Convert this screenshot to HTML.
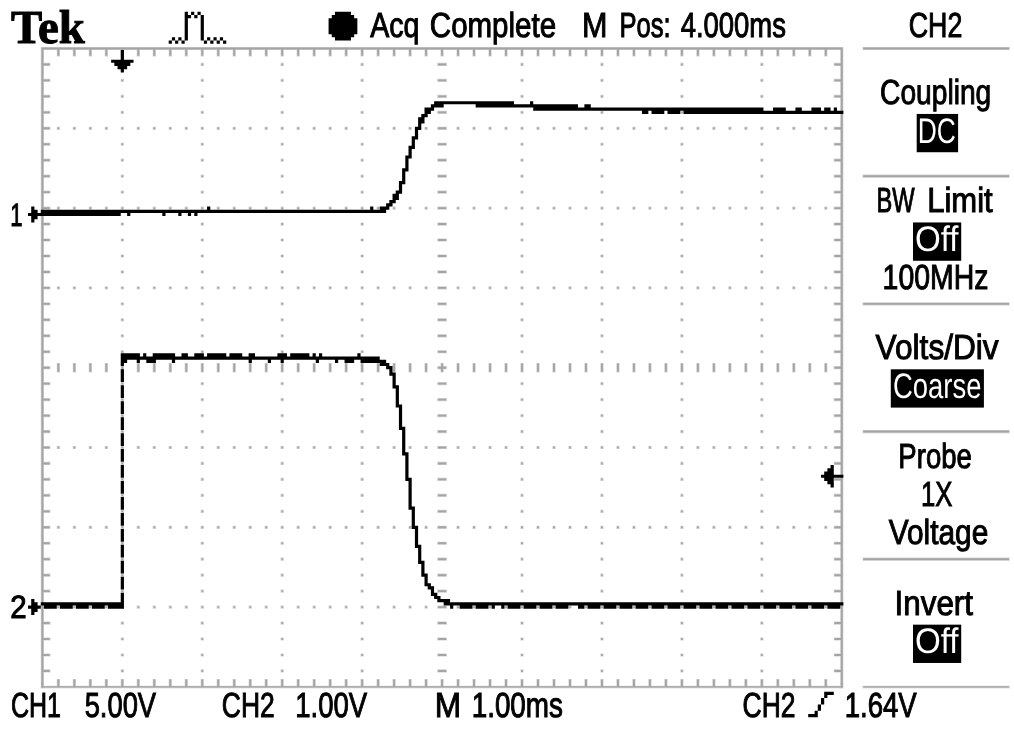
<!DOCTYPE html>
<html lang="en"><head><meta charset="utf-8"><title>Tek CH2</title>
<style>
html,body{margin:0;padding:0;background:#fff;}
body{width:1014px;height:730px;overflow:hidden;}
svg{display:block;}
.t text{fill:#000;stroke:#000;stroke-width:1px;vector-effect:non-scaling-stroke;}
.t text.w{fill:#fff;stroke:none;}
.g path{stroke:#fff;stroke-opacity:0.5;stroke-width:1.3px;}
.k text{fill:#000;stroke:#000;stroke-width:1px;}
</style></head><body>
<svg width="1014" height="730" viewBox="0 0 1014 730" text-rendering="geometricPrecision">
<rect width="1014" height="730" fill="#fff"/>
<g class="g"><path fill="#a8a8a8" d="M600.36 78.82H603.56V82.02H600.36ZM520.43 286.3H523.62V289.5H520.43ZM472.46 605.5H475.66V608.7H472.46ZM280.61 589.54H283.81V592.74H280.61ZM216.66 286.3H219.86V289.5H216.66ZM120.74 557.62H123.94V560.82H120.74ZM760.24 382.06H763.44V385.26H760.24ZM680.3 589.54H683.5V592.74H680.3ZM248.64 445.9H251.84V449.1H248.64ZM168.7 206.5H171.9V209.7H168.7ZM632.34 206.5H635.54V209.7H632.34ZM360.55 398.02H363.75V401.22H360.55ZM280.61 158.62H283.81V161.82H280.61ZM120.74 126.7H123.94V129.9H120.74ZM584.38 126.7H587.57V129.9H584.38ZM600.36 493.78H603.56V496.98H600.36ZM680.3 158.62H683.5V161.82H680.3ZM616.35 286.3H619.55V289.5H616.35ZM568.39 605.5H571.59V608.7H568.39ZM392.53 525.7H395.72V528.9H392.53ZM312.59 286.3H315.79V289.5H312.59ZM344.56 445.9H347.76V449.1H344.56ZM600.36 62.86H603.56V66.06H600.36ZM808.2 445.9H811.4V449.1H808.2ZM520.43 270.34H523.62V273.54H520.43ZM264.63 206.5H267.82V209.7H264.63ZM88.76 126.7H91.96V129.9H88.76ZM280.61 573.58H283.81V576.78H280.61ZM728.26 206.5H731.46V209.7H728.26ZM120.74 541.66H123.94V544.86H120.74ZM376.54 605.5H379.74V608.7H376.54ZM72.78 605.5H75.97V608.7H72.78ZM680.3 573.58H683.5V576.78H680.3ZM600.36 334.18H603.56V337.38H600.36ZM360.55 382.06H363.75V385.26H360.55ZM280.61 142.66H283.81V145.86H280.61ZM536.41 206.5H539.61V209.7H536.41ZM200.68 350.14H203.87V353.34H200.68ZM488.45 525.7H491.65V528.9H488.45ZM408.51 286.3H411.71V289.5H408.51ZM120.74 110.74H123.94V113.94H120.74ZM680.3 142.66H683.5V145.86H680.3ZM360.55 653.38H363.75V656.58H360.55ZM184.69 126.7H187.89V129.9H184.69ZM136.73 445.9H139.92V449.1H136.73ZM168.7 605.5H171.9V608.7H168.7ZM632.34 605.5H635.54V608.7H632.34ZM520.43 254.38H523.62V257.58H520.43ZM280.61 557.62H283.81V560.82H280.61ZM360.55 222.46H363.75V225.66H360.55ZM120.74 525.7H123.94V528.9H120.74ZM584.38 525.7H587.57V528.9H584.38ZM760.24 350.14H763.44V353.34H760.24ZM680.3 557.62H683.5V560.82H680.3ZM600.36 318.22H603.56V321.42H600.36ZM280.61 126.7H283.81V129.9H280.61ZM200.68 334.18H203.87V337.38H200.68ZM120.74 94.78H123.94V97.98H120.74ZM520.43 669.34H523.62V672.54H520.43ZM680.3 126.7H683.5V129.9H680.3ZM632.34 445.9H635.54V449.1H632.34ZM264.63 605.5H267.82V608.7H264.63ZM728.26 605.5H731.46V608.7H728.26ZM360.55 637.42H363.75V640.62H360.55ZM280.61 398.02H283.81V401.22H280.61ZM520.43 238.42H523.62V241.62H520.43ZM360.55 206.5H363.75V209.7H360.55ZM120.74 509.74H123.94V512.94H120.74ZM824.19 206.5H827.39V209.7H824.19ZM56.79 206.5H59.99V209.7H56.79ZM760.24 334.18H763.44V337.38H760.24ZM680.3 541.66H683.5V544.86H680.3ZM600.36 302.26H603.56V305.46H600.36ZM776.23 126.7H779.42V129.9H776.23ZM728.26 445.9H731.46V449.1H728.26ZM472.46 126.7H475.66V129.9H472.46ZM200.68 318.22H203.87V321.42H200.68ZM120.74 78.82H123.94V82.02H120.74ZM504.44 286.3H507.64V289.5H504.44ZM520.43 653.38H523.62V656.58H520.43ZM680.3 110.74H683.5V113.94H680.3ZM360.55 621.46H363.75V624.66H360.55ZM280.61 382.06H283.81V385.26H280.61ZM536.41 445.9H539.61V449.1H536.41ZM456.48 206.5H459.67V209.7H456.48ZM232.65 445.9H235.85V449.1H232.65ZM152.71 206.5H155.91V209.7H152.71ZM520.43 222.46H523.62V225.66H520.43ZM360.55 190.54H363.75V193.74H360.55ZM120.74 493.78H123.94V496.98H120.74ZM568.39 126.7H571.59V129.9H568.39ZM760.24 318.22H763.44V321.42H760.24ZM680.3 525.7H683.5V528.9H680.3ZM600.36 286.3H603.56V289.5H600.36ZM552.4 605.5H555.6V608.7H552.4ZM296.6 286.3H299.8V289.5H296.6ZM200.68 302.26H203.87V305.46H200.68ZM760.24 589.54H763.44V592.74H760.24ZM120.74 62.86H123.94V66.06H120.74ZM376.54 126.7H379.74V129.9H376.54ZM328.58 445.9H331.77V449.1H328.58ZM792.21 445.9H795.41V449.1H792.21ZM72.78 126.7H75.97V129.9H72.78ZM520.43 637.42H523.62V640.62H520.43ZM680.3 94.78H683.5V97.98H680.3ZM712.28 206.5H715.47V209.7H712.28ZM360.55 605.5H363.75V608.7H360.55ZM824.19 605.5H827.39V608.7H824.19ZM104.75 286.3H107.95V289.5H104.75ZM56.79 605.5H59.99V608.7H56.79ZM760.24 158.62H763.44V161.82H760.24ZM776.23 525.7H779.42V528.9H776.23ZM696.29 286.3H699.49V289.5H696.29ZM520.43 206.5H523.62V209.7H520.43ZM472.46 525.7H475.66V528.9H472.46ZM360.55 174.58H363.75V177.78H360.55ZM120.74 477.82H123.94V481.02H120.74ZM680.3 509.74H683.5V512.94H680.3ZM424.5 445.9H427.7V449.1H424.5ZM600.36 270.34H603.56V273.54H600.36ZM520.43 477.82H523.62V481.02H520.43ZM168.7 126.7H171.9V129.9H168.7ZM456.48 605.5H459.67V608.7H456.48ZM200.68 286.3H203.87V289.5H200.68ZM152.71 605.5H155.91V608.7H152.71ZM760.24 573.58H763.44V576.78H760.24ZM680.3 78.82H683.5V82.02H680.3ZM360.55 589.54H363.75V592.74H360.55ZM616.35 206.5H619.55V209.7H616.35ZM568.39 525.7H571.59V528.9H568.39ZM280.61 350.14H283.81V353.34H280.61ZM760.24 142.66H763.44V145.86H760.24ZM248.64 206.5H251.84V209.7H248.64ZM264.63 126.7H267.82V129.9H264.63ZM360.55 158.62H363.75V161.82H360.55ZM120.74 461.86H123.94V465.06H120.74ZM376.54 525.7H379.74V528.9H376.54ZM664.31 126.7H667.51V129.9H664.31ZM712.28 605.5H715.47V608.7H712.28ZM680.3 493.78H683.5V496.98H680.3ZM600.36 254.38H603.56V257.58H600.36ZM520.43 461.86H523.62V465.06H520.43ZM392.53 286.3H395.72V289.5H392.53ZM200.68 270.34H203.87V273.54H200.68ZM760.24 557.62H763.44V560.82H760.24ZM680.3 62.86H683.5V66.06H680.3ZM344.56 206.5H347.76V209.7H344.56ZM360.55 573.58H363.75V576.78H360.55ZM808.2 206.5H811.4V209.7H808.2ZM280.61 334.18H283.81V337.38H280.61ZM200.68 541.66H203.87V544.86H200.68ZM600.36 669.34H603.56V672.54H600.36ZM760.24 126.7H763.44V129.9H760.24ZM712.28 445.9H715.47V449.1H712.28ZM104.75 525.7H107.95V528.9H104.75ZM360.55 142.66H363.75V145.86H360.55ZM120.74 445.9H123.94V449.1H120.74ZM488.45 286.3H491.65V289.5H488.45ZM200.68 110.74H203.87V113.94H200.68ZM680.3 477.82H683.5V481.02H680.3ZM600.36 238.42H603.56V241.62H600.36ZM520.43 445.9H523.62V449.1H520.43ZM216.66 445.9H219.86V449.1H216.66ZM136.73 206.5H139.92V209.7H136.73ZM760.24 541.66H763.44V544.86H760.24ZM248.64 605.5H251.84V608.7H248.64ZM360.55 557.62H363.75V560.82H360.55ZM552.4 126.7H555.6V129.9H552.4ZM280.61 318.22H283.81V321.42H280.61ZM200.68 525.7H203.87V528.9H200.68ZM664.31 525.7H667.51V528.9H664.31ZM120.74 286.3H123.94V289.5H120.74ZM584.38 286.3H587.57V289.5H584.38ZM600.36 653.38H603.56V656.58H600.36ZM760.24 110.74H763.44V113.94H760.24ZM616.35 445.9H619.55V449.1H616.35ZM360.55 126.7H363.75V129.9H360.55ZM312.59 445.9H315.79V449.1H312.59ZM200.68 94.78H203.87V97.98H200.68ZM56.79 126.7H59.99V129.9H56.79ZM680.3 461.86H683.5V465.06H680.3ZM344.56 605.5H347.76V608.7H344.56ZM600.36 222.46H603.56V225.66H600.36ZM808.2 605.5H811.4V608.7H808.2ZM520.43 429.94H523.62V433.14H520.43ZM88.76 286.3H91.96V289.5H88.76ZM776.23 605.5H779.42V608.7H776.23ZM760.24 525.7H763.44V528.9H760.24ZM504.44 206.5H507.64V209.7H504.44ZM360.55 541.66H363.75V544.86H360.55ZM280.61 302.26H283.81V305.46H280.61ZM200.68 509.74H203.87V512.94H200.68ZM456.48 126.7H459.67V129.9H456.48ZM408.51 445.9H411.71V449.1H408.51ZM120.74 270.34H123.94V273.54H120.74ZM152.71 126.7H155.91V129.9H152.71ZM600.36 637.42H603.56V640.62H600.36ZM760.24 94.78H763.44V97.98H760.24ZM680.3 302.26H683.5V305.46H680.3ZM184.69 286.3H187.89V289.5H184.69ZM136.73 605.5H139.92V608.7H136.73ZM360.55 110.74H363.75V113.94H360.55ZM200.68 78.82H203.87V82.02H200.68ZM600.36 206.5H603.56V209.7H600.36ZM552.4 525.7H555.6V528.9H552.4ZM520.43 413.98H523.62V417.18H520.43ZM760.24 509.74H763.44V512.94H760.24ZM232.65 206.5H235.85V209.7H232.65ZM600.36 477.82H603.56V481.02H600.36ZM360.55 525.7H363.75V528.9H360.55ZM280.61 286.3H283.81V289.5H280.61ZM200.68 493.78H203.87V496.98H200.68ZM648.33 126.7H651.52V129.9H648.33ZM120.74 254.38H123.94V257.58H120.74ZM760.24 78.82H763.44V82.02H760.24ZM680.3 286.3H683.5V289.5H680.3ZM696.29 206.5H699.49V209.7H696.29ZM360.55 94.78H363.75V97.98H360.55ZM200.68 62.86H203.87V66.06H200.68ZM328.58 206.5H331.77V209.7H328.58ZM792.21 206.5H795.41V209.7H792.21ZM520.43 398.02H523.62V401.22H520.43ZM456.48 525.7H459.67V528.9H456.48ZM120.74 669.34H123.94V672.54H120.74ZM744.25 126.7H747.45V129.9H744.25ZM760.24 493.78H763.44V496.98H760.24ZM600.36 461.86H603.56V465.06H600.36ZM776.23 286.3H779.42V289.5H776.23ZM88.76 525.7H91.96V528.9H88.76ZM472.46 286.3H475.66V289.5H472.46ZM280.61 270.34H283.81V273.54H280.61ZM200.68 477.82H203.87V481.02H200.68ZM120.74 238.42H123.94V241.62H120.74ZM504.44 445.9H507.64V449.1H504.44ZM760.24 62.86H763.44V66.06H760.24ZM680.3 270.34H683.5V273.54H680.3ZM424.5 206.5H427.7V209.7H424.5ZM248.64 126.7H251.84V129.9H248.64ZM280.61 541.66H283.81V544.86H280.61ZM536.41 605.5H539.61V608.7H536.41ZM232.65 605.5H235.85V608.7H232.65ZM520.43 382.06H523.62V385.26H520.43ZM184.69 525.7H187.89V528.9H184.69ZM648.33 525.7H651.52V528.9H648.33ZM360.55 350.14H363.75V353.34H360.55ZM120.74 653.38H123.94V656.58H120.74ZM280.61 110.74H283.81V113.94H280.61ZM392.53 206.5H395.72V209.7H392.53ZM568.39 286.3H571.59V289.5H568.39ZM760.24 477.82H763.44V481.02H760.24ZM600.36 445.9H603.56V449.1H600.36ZM344.56 126.7H347.76V129.9H344.56ZM296.6 445.9H299.8V449.1H296.6ZM200.68 461.86H203.87V465.06H200.68ZM120.74 222.46H123.94V225.66H120.74ZM376.54 286.3H379.74V289.5H376.54ZM328.58 605.5H331.77V608.7H328.58ZM792.21 605.5H795.41V608.7H792.21ZM72.78 286.3H75.97V289.5H72.78ZM680.3 254.38H683.5V257.58H680.3ZM280.61 525.7H283.81V528.9H280.61ZM104.75 445.9H107.95V449.1H104.75ZM744.25 525.7H747.45V528.9H744.25ZM488.45 206.5H491.65V209.7H488.45ZM696.29 445.9H699.49V449.1H696.29ZM360.55 334.18H363.75V337.38H360.55ZM120.74 637.42H123.94V640.62H120.74ZM280.61 94.78H283.81V97.98H280.61ZM136.73 126.7H139.92V129.9H136.73ZM760.24 461.86H763.44V465.06H760.24ZM680.3 669.34H683.5V672.54H680.3ZM424.5 605.5H427.7V608.7H424.5ZM248.64 525.7H251.84V528.9H248.64ZM600.36 429.94H603.56V433.14H600.36ZM168.7 286.3H171.9V289.5H168.7ZM200.68 445.9H203.87V449.1H200.68ZM120.74 206.5H123.94V209.7H120.74ZM584.38 206.5H587.57V209.7H584.38ZM680.3 238.42H683.5V241.62H680.3ZM280.61 509.74H283.81V512.94H280.61ZM216.66 206.5H219.86V209.7H216.66ZM760.24 302.26H763.44V305.46H760.24ZM344.56 525.7H347.76V528.9H344.56ZM520.43 350.14H523.62V353.34H520.43ZM264.63 286.3H267.82V289.5H264.63ZM632.34 126.7H635.54V129.9H632.34ZM360.55 318.22H363.75V321.42H360.55ZM120.74 621.46H123.94V624.66H120.74ZM280.61 78.82H283.81V82.02H280.61ZM664.31 286.3H667.51V289.5H664.31ZM680.3 653.38H683.5V656.58H680.3ZM600.36 413.98H603.56V417.18H600.36ZM520.43 621.46H523.62V624.66H520.43ZM392.53 445.9H395.72V449.1H392.53ZM200.68 429.94H203.87V433.14H200.68ZM312.59 206.5H315.79V209.7H312.59ZM120.74 190.54H123.94V193.74H120.74ZM680.3 222.46H683.5V225.66H680.3ZM520.43 190.54H523.62V193.74H520.43ZM280.61 493.78H283.81V496.98H280.61ZM728.26 126.7H731.46V129.9H728.26ZM760.24 286.3H763.44V289.5H760.24ZM72.78 525.7H75.97V528.9H72.78ZM360.55 302.26H363.75V305.46H360.55ZM120.74 605.5H123.94V608.7H120.74ZM280.61 62.86H283.81V66.06H280.61ZM536.41 126.7H539.61V129.9H536.41ZM488.45 445.9H491.65V449.1H488.45ZM408.51 206.5H411.71V209.7H408.51ZM232.65 126.7H235.85V129.9H232.65ZM680.3 637.42H683.5V640.62H680.3ZM600.36 398.02H603.56V401.22H600.36ZM520.43 605.5H523.62V608.7H520.43ZM216.66 605.5H219.86V608.7H216.66ZM200.68 413.98H203.87V417.18H200.68ZM120.74 174.58H123.94V177.78H120.74ZM168.7 525.7H171.9V528.9H168.7ZM680.3 206.5H683.5V209.7H680.3ZM632.34 525.7H635.54V528.9H632.34ZM552.4 286.3H555.6V289.5H552.4ZM520.43 174.58H523.62V177.78H520.43ZM280.61 477.82H283.81V481.02H280.61ZM584.38 445.9H587.57V449.1H584.38ZM760.24 270.34H763.44V273.54H760.24ZM328.58 126.7H331.77V129.9H328.58ZM616.35 605.5H619.55V608.7H616.35ZM360.55 286.3H363.75V289.5H360.55ZM312.59 605.5H315.79V608.7H312.59ZM120.74 589.54H123.94V592.74H120.74ZM824.19 286.3H827.39V289.5H824.19ZM200.68 254.38H203.87V257.58H200.68ZM56.79 286.3H59.99V289.5H56.79ZM680.3 621.46H683.5V624.66H680.3ZM600.36 382.06H603.56V385.26H600.36ZM520.43 589.54H523.62V592.74H520.43ZM264.63 525.7H267.82V528.9H264.63ZM776.23 206.5H779.42V209.7H776.23ZM88.76 445.9H91.96V449.1H88.76ZM728.26 525.7H731.46V528.9H728.26ZM472.46 206.5H475.66V209.7H472.46ZM120.74 158.62H123.94V161.82H120.74ZM680.3 190.54H683.5V193.74H680.3ZM424.5 126.7H427.7V129.9H424.5ZM520.43 158.62H523.62V161.82H520.43ZM280.61 461.86H283.81V465.06H280.61ZM536.41 525.7H539.61V528.9H536.41ZM200.68 669.34H203.87V672.54H200.68ZM456.48 286.3H459.67V289.5H456.48ZM408.51 605.5H411.71V608.7H408.51ZM120.74 429.94H123.94V433.14H120.74ZM824.19 126.7H827.39V129.9H824.19ZM232.65 525.7H235.85V528.9H232.65ZM152.71 286.3H155.91V289.5H152.71ZM760.24 254.38H763.44V257.58H760.24ZM184.69 445.9H187.89V449.1H184.69ZM360.55 270.34H363.75V273.54H360.55ZM568.39 206.5H571.59V209.7H568.39ZM200.68 238.42H203.87V241.62H200.68ZM680.3 605.5H683.5V608.7H680.3ZM520.43 573.58H523.62V576.78H520.43ZM760.24 669.34H763.44V672.54H760.24ZM328.58 525.7H331.77V528.9H328.58ZM680.3 174.58H683.5V177.78H680.3ZM520.43 142.66H523.62V145.86H520.43ZM280.61 445.9H283.81V449.1H280.61ZM200.68 653.38H203.87V656.58H200.68ZM648.33 286.3H651.52V289.5H648.33ZM120.74 413.98H123.94V417.18H120.74ZM760.24 238.42H763.44V241.62H760.24ZM680.3 445.9H683.5V449.1H680.3ZM296.6 206.5H299.8V209.7H296.6ZM360.55 254.38H363.75V257.58H360.55ZM200.68 222.46H203.87V225.66H200.68ZM424.5 525.7H427.7V528.9H424.5ZM600.36 350.14H603.56V353.34H600.36ZM520.43 557.62H523.62V560.82H520.43ZM712.28 126.7H715.47V129.9H712.28ZM824.19 525.7H827.39V528.9H824.19ZM104.75 206.5H107.95V209.7H104.75ZM744.25 286.3H747.45V289.5H744.25ZM56.79 525.7H59.99V528.9H56.79ZM760.24 653.38H763.44V656.58H760.24ZM600.36 621.46H603.56V624.66H600.36ZM776.23 445.9H779.42V449.1H776.23ZM360.55 669.34H363.75V672.54H360.55ZM520.43 126.7H523.62V129.9H520.43ZM472.46 445.9H475.66V449.1H472.46ZM280.61 429.94H283.81V433.14H280.61ZM200.68 637.42H203.87V640.62H200.68ZM216.66 126.7H219.86V129.9H216.66ZM120.74 398.02H123.94V401.22H120.74ZM504.44 605.5H507.64V608.7H504.44ZM760.24 222.46H763.44V225.66H760.24ZM680.3 429.94H683.5V433.14H680.3ZM248.64 286.3H251.84V289.5H248.64ZM600.36 190.54H603.56V193.74H600.36ZM360.55 238.42H363.75V241.62H360.55ZM200.68 206.5H203.87V209.7H200.68ZM152.71 525.7H155.91V528.9H152.71ZM664.31 206.5H667.51V209.7H664.31ZM520.43 541.66H523.62V544.86H520.43ZM360.55 509.74H363.75V512.94H360.55ZM616.35 126.7H619.55V129.9H616.35ZM568.39 445.9H571.59V449.1H568.39ZM312.59 126.7H315.79V129.9H312.59ZM760.24 637.42H763.44V640.62H760.24ZM600.36 605.5H603.56V608.7H600.36ZM344.56 286.3H347.76V289.5H344.56ZM296.6 605.5H299.8V608.7H296.6ZM808.2 286.3H811.4V289.5H808.2ZM520.43 110.74H523.62V113.94H520.43ZM280.61 413.98H283.81V417.18H280.61ZM200.68 621.46H203.87V624.66H200.68ZM360.55 78.82H363.75V82.02H360.55ZM120.74 382.06H123.94V385.26H120.74ZM376.54 445.9H379.74V449.1H376.54ZM760.24 206.5H763.44V209.7H760.24ZM72.78 445.9H75.97V449.1H72.78ZM680.3 413.98H683.5V417.18H680.3ZM712.28 525.7H715.47V528.9H712.28ZM600.36 174.58H603.56V177.78H600.36ZM104.75 605.5H107.95V608.7H104.75ZM200.68 190.54H203.87V193.74H200.68ZM408.51 126.7H411.71V129.9H408.51ZM696.29 605.5H699.49V608.7H696.29ZM520.43 525.7H523.62V528.9H520.43ZM360.55 493.78H363.75V496.98H360.55ZM808.2 126.7H811.4V129.9H808.2ZM216.66 525.7H219.86V528.9H216.66ZM280.61 254.38H283.81V257.58H280.61ZM136.73 286.3H139.92V289.5H136.73ZM760.24 621.46H763.44V624.66H760.24ZM600.36 589.54H603.56V592.74H600.36ZM168.7 445.9H171.9V449.1H168.7ZM552.4 206.5H555.6V209.7H552.4ZM520.43 94.78H523.62V97.98H520.43ZM200.68 605.5H203.87V608.7H200.68ZM360.55 62.86H363.75V66.06H360.55ZM664.31 605.5H667.51V608.7H664.31ZM760.24 190.54H763.44V193.74H760.24ZM680.3 398.02H683.5V401.22H680.3ZM600.36 158.62H603.56V161.82H600.36ZM616.35 525.7H619.55V528.9H616.35ZM280.61 669.34H283.81V672.54H280.61ZM312.59 525.7H315.79V528.9H312.59ZM200.68 174.58H203.87V177.78H200.68ZM520.43 509.74H523.62V512.94H520.43ZM264.63 445.9H267.82V449.1H264.63ZM632.34 286.3H635.54V289.5H632.34ZM360.55 477.82H363.75V481.02H360.55ZM280.61 238.42H283.81V241.62H280.61ZM664.31 445.9H667.51V449.1H664.31ZM760.24 605.5H763.44V608.7H760.24ZM600.36 573.58H603.56V576.78H600.36ZM520.43 78.82H523.62V82.02H520.43ZM392.53 605.5H395.72V608.7H392.53ZM200.68 589.54H203.87V592.74H200.68ZM408.51 525.7H411.71V528.9H408.51ZM120.74 350.14H123.94V353.34H120.74ZM760.24 174.58H763.44V177.78H760.24ZM680.3 382.06H683.5V385.26H680.3ZM600.36 142.66H603.56V145.86H600.36ZM808.2 525.7H811.4V528.9H808.2ZM88.76 206.5H91.96V209.7H88.76ZM280.61 653.38H283.81V656.58H280.61ZM728.26 286.3H731.46V289.5H728.26ZM200.68 158.62H203.87V161.82H200.68ZM760.24 445.9H763.44V449.1H760.24ZM504.44 126.7H507.64V129.9H504.44ZM520.43 493.78H523.62V496.98H520.43ZM360.55 461.86H363.75V465.06H360.55ZM280.61 222.46H283.81V225.66H280.61ZM536.41 286.3H539.61V289.5H536.41ZM488.45 605.5H491.65V608.7H488.45ZM232.65 286.3H235.85V289.5H232.65ZM600.36 557.62H603.56V560.82H600.36ZM520.43 62.86H523.62V66.06H520.43ZM184.69 206.5H187.89V209.7H184.69ZM136.73 525.7H139.92V528.9H136.73ZM200.68 573.58H203.87V576.78H200.68ZM648.33 206.5H651.52V209.7H648.33ZM120.74 334.18H123.94V337.38H120.74ZM600.36 126.7H603.56V129.9H600.36ZM552.4 445.9H555.6V449.1H552.4ZM520.43 334.18H523.62V337.38H520.43ZM280.61 637.42H283.81V640.62H280.61ZM296.6 126.7H299.8V129.9H296.6ZM584.38 605.5H587.57V608.7H584.38ZM200.68 142.66H203.87V145.86H200.68ZM760.24 429.94H763.44V433.14H760.24ZM328.58 286.3H331.77V289.5H328.58ZM792.21 286.3H795.41V289.5H792.21ZM360.55 445.9H363.75V449.1H360.55ZM824.19 445.9H827.39V449.1H824.19ZM280.61 206.5H283.81V209.7H280.61ZM104.75 126.7H107.95V129.9H104.75ZM744.25 206.5H747.45V209.7H744.25ZM56.79 445.9H59.99V449.1H56.79ZM600.36 541.66H603.56V544.86H600.36ZM88.76 605.5H91.96V608.7H88.76ZM696.29 126.7H699.49V129.9H696.29ZM200.68 557.62H203.87V560.82H200.68ZM120.74 318.22H123.94V321.42H120.74ZM504.44 525.7H507.64V528.9H504.44ZM680.3 350.14H683.5V353.34H680.3ZM424.5 286.3H427.7V289.5H424.5ZM792.21 126.7H795.41V129.9H792.21ZM600.36 110.74H603.56V113.94H600.36ZM520.43 318.22H523.62V321.42H520.43ZM280.61 621.46H283.81V624.66H280.61ZM456.48 445.9H459.67V449.1H456.48ZM200.68 126.7H203.87V129.9H200.68ZM152.71 445.9H155.91V449.1H152.71ZM760.24 413.98H763.44V417.18H760.24ZM184.69 605.5H187.89V608.7H184.69ZM648.33 605.5H651.52V608.7H648.33ZM360.55 429.94H363.75V433.14H360.55ZM280.61 190.54H283.81V193.74H280.61ZM200.68 398.02H203.87V401.22H200.68ZM600.36 525.7H603.56V528.9H600.36ZM296.6 525.7H299.8V528.9H296.6ZM120.74 302.26H123.94V305.46H120.74ZM680.3 334.18H683.5V337.38H680.3ZM600.36 94.78H603.56V97.98H600.36ZM520.43 302.26H523.62V305.46H520.43ZM280.61 605.5H283.81V608.7H280.61ZM648.33 445.9H651.52V449.1H648.33ZM744.25 605.5H747.45V608.7H744.25ZM120.74 573.58H123.94V576.78H120.74ZM392.53 126.7H395.72V129.9H392.53ZM760.24 398.02H763.44V401.22H760.24ZM696.29 525.7H699.49V528.9H696.29ZM360.55 413.98H363.75V417.18H360.55ZM280.61 174.58H283.81V177.78H280.61ZM200.68 382.06H203.87V385.26H200.68ZM120.74 142.66H123.94V145.86H120.74ZM376.54 206.5H379.74V209.7H376.54ZM792.21 525.7H795.41V528.9H792.21ZM600.36 509.74H603.56V512.94H600.36ZM72.78 206.5H75.97V209.7H72.78ZM712.28 286.3H715.47V289.5H712.28ZM744.25 445.9H747.45V449.1H744.25ZM488.45 126.7H491.65V129.9H488.45ZM680.3 318.22H683.5V321.42H680.3Z"/>
<path fill="#a4a4a4" d="M843.37 46.9V688.5H840.18V672.54H833.78V669.34H840.18V656.58H833.78V653.38H840.18V640.62H833.78V637.42H840.18V624.66H833.78V621.46H840.18V608.7H833.78V605.5H840.18V592.74H833.78V589.54H840.18V576.78H833.78V573.58H840.18V560.82H833.78V557.62H840.18V544.86H833.78V541.66H840.18V528.9H833.78V525.7H840.18V512.94H833.78V509.74H840.18V496.98H833.78V493.78H840.18V481.02H833.78V477.82H840.18V465.06H833.78V461.86H840.18V449.1H833.78V445.9H840.18V433.14H833.78V429.94H840.18V417.18H833.78V413.98H840.18V401.22H833.78V398.02H840.18V385.26H833.78V382.06H840.18V369.3H833.78V366.1H840.18V353.34H833.78V350.14H840.18V337.38H833.78V334.18H840.18V321.42H833.78V318.22H840.18V305.46H833.78V302.26H840.18V289.5H833.78V286.3H840.18V273.54H833.78V270.34H840.18V257.58H833.78V254.38H840.18V241.62H833.78V238.42H840.18V225.66H833.78V222.46H840.18V209.7H833.78V206.5H840.18V193.74H833.78V190.54H840.18V177.78H833.78V174.58H840.18V161.82H833.78V158.62H840.18V145.86H833.78V142.66H840.18V129.9H833.78V126.7H840.18V113.94H833.78V110.74H840.18V97.98H833.78V94.78H840.18V82.02H833.78V78.82H840.18V66.06H833.78V62.86H840.18V50.1H827.39V56.48H824.19V50.1H811.4V56.48H808.2V50.1H795.41V56.48H792.21V50.1H779.42V56.48H776.23V50.1H763.44V56.48H760.24V50.1H747.45V56.48H744.25V50.1H731.46V56.48H728.26V50.1H715.47V56.48H712.28V50.1H699.49V56.48H696.29V50.1H683.5V56.48H680.3V50.1H667.51V56.48H664.31V50.1H651.52V56.48H648.33V50.1H635.54V56.48H632.34V50.1H619.55V56.48H616.35V50.1H603.56V56.48H600.36V50.1H587.57V56.48H584.38V50.1H571.59V56.48H568.39V50.1H555.6V56.48H552.4V50.1H539.61V56.48H536.41V50.1H523.62V56.48H520.43V50.1H507.64V56.48H504.44V50.1H491.65V56.48H488.45V50.1H475.66V56.48H472.46V50.1H459.67V56.48H456.48V50.1H443.69V56.48H440.49V50.1H427.7V56.48H424.5V50.1H411.71V56.48H408.51V50.1H395.72V56.48H392.53V50.1H379.74V56.48H376.54V50.1H363.75V56.48H360.55V50.1H347.76V56.48H344.56V50.1H331.77V56.48H328.58V50.1H315.79V56.48H312.59V50.1H299.8V56.48H296.6V50.1H283.81V56.48H280.61V50.1H267.82V56.48H264.63V50.1H251.84V56.48H248.64V50.1H235.85V56.48H232.65V50.1H219.86V56.48H216.66V50.1H203.87V56.48H200.68V50.1H187.89V56.48H184.69V50.1H171.9V56.48H168.7V50.1H155.91V56.48H152.71V50.1H139.92V56.48H136.73V50.1H123.94V56.48H120.74V50.1H107.95V56.48H104.75V50.1H91.96V56.48H88.76V50.1H75.97V56.48H72.78V50.1H59.99V56.48H56.79V50.1H44V62.86H50.39V66.06H44V78.82H50.39V82.02H44V94.78H50.39V97.98H44V110.74H50.39V113.94H44V126.7H50.39V129.9H44V142.66H50.39V145.86H44V158.62H50.39V161.82H44V174.58H50.39V177.78H44V190.54H50.39V193.74H44V206.5H50.39V209.7H44V222.46H50.39V225.66H44V238.42H50.39V241.62H44V254.38H50.39V257.58H44V270.34H50.39V273.54H44V286.3H50.39V289.5H44V302.26H50.39V305.46H44V318.22H50.39V321.42H44V334.18H50.39V337.38H44V350.14H50.39V353.34H44V366.1H50.39V369.3H44V382.06H50.39V385.26H44V398.02H50.39V401.22H44V413.98H50.39V417.18H44V429.94H50.39V433.14H44V445.9H50.39V449.1H44V461.86H50.39V465.06H44V477.82H50.39V481.02H44V493.78H50.39V496.98H44V509.74H50.39V512.94H44V525.7H50.39V528.9H44V541.66H50.39V544.86H44V557.62H50.39V560.82H44V573.58H50.39V576.78H44V589.54H50.39V592.74H44V605.5H50.39V608.7H44V621.46H50.39V624.66H44V637.42H50.39V640.62H44V653.38H50.39V656.58H44V669.34H50.39V672.54H44V688.5H40.8V46.9ZM1009.64 46.9V50.1H862.56V46.9ZM1009.64 429.94V433.14H862.56V429.94ZM437.29 174.58H446.88V177.78H437.29ZM667.51 372.49H664.31V362.91H667.51ZM1009.64 302.26V305.46H862.56V302.26ZM504.44 362.91H507.64V372.49H504.44ZM862.56 557.62H1009.64V560.82H862.56ZM446.88 318.22V321.42H437.29V318.22ZM763.44 372.49H760.24V362.91H763.44ZM600.36 362.91H603.56V372.49H600.36ZM696.29 362.91H699.49V372.49H696.29ZM437.29 142.66H446.88V145.86H437.29ZM446.88 286.3V289.5H437.29V286.3ZM251.84 372.49H248.64V362.91H251.84ZM91.96 372.49H88.76V362.91H91.96ZM347.76 372.49H344.56V362.91H347.76ZM187.89 372.49H184.69V362.91H187.89ZM437.29 110.74H446.88V113.94H437.29ZM443.69 369.3V372.49H440.49V369.3H437.29V366.1H440.49V362.91H443.69V366.1H446.88V369.3ZM283.81 372.49H280.61V362.91H283.81ZM446.88 254.38V257.58H437.29V254.38ZM446.88 222.46V225.66H437.29V222.46ZM437.29 78.82H446.88V82.02H437.29ZM446.88 190.54V193.74H437.29V190.54ZM72.78 362.91H75.97V372.49H72.78ZM446.88 461.86V465.06H437.29V461.86ZM1009.64 174.58V177.78H862.56V174.58ZM168.7 362.91H171.9V372.49H168.7ZM715.47 372.49H712.28V362.91H715.47ZM446.88 158.62V161.82H437.29V158.62ZM264.63 362.91H267.82V372.49H264.63ZM827.39 372.49H824.19V362.91H827.39ZM446.88 429.94V433.14H437.29V429.94ZM446.88 126.7V129.9H437.29V126.7ZM446.88 398.02V401.22H437.29V398.02ZM446.88 94.78V97.98H437.29V94.78ZM808.2 362.91H811.4V372.49H808.2ZM446.88 334.18V337.38H437.29V334.18ZM446.88 605.5V608.7H437.29V605.5ZM123.94 372.49H120.74V362.91H123.94ZM446.88 302.26V305.46H437.29V302.26ZM395.72 372.49H392.53V362.91H395.72ZM232.65 362.91H235.85V372.49H232.65ZM491.65 372.49H488.45V362.91H491.65ZM446.88 573.58V576.78H437.29V573.58ZM328.58 362.91H331.77V372.49H328.58ZM587.57 372.49H584.38V362.91H587.57ZM424.5 362.91H427.7V372.49H424.5ZM446.88 270.34V273.54H437.29V270.34ZM446.88 541.66V544.86H437.29V541.66ZM446.88 238.42V241.62H437.29V238.42ZM446.88 509.74V512.94H437.29V509.74ZM446.88 477.82V481.02H437.29V477.82ZM446.88 445.9V449.1H437.29V445.9ZM446.88 413.98V417.18H437.29V413.98ZM651.52 372.49H648.33V362.91H651.52ZM747.45 372.49H744.25V362.91H747.45ZM446.88 382.06V385.26H437.29V382.06ZM446.88 653.38V656.58H437.29V653.38ZM446.88 621.46V624.66H437.29V621.46ZM539.61 372.49H536.41V362.91H539.61ZM376.54 362.91H379.74V372.49H376.54ZM446.88 589.54V592.74H437.29V589.54ZM446.88 557.62V560.82H437.29V557.62ZM56.79 362.91H59.99V372.49H56.79ZM152.71 362.91H155.91V372.49H152.71ZM446.88 525.7V528.9H437.29V525.7ZM792.21 362.91H795.41V372.49H792.21ZM446.88 669.34V672.54H437.29V669.34ZM216.66 362.91H219.86V372.49H216.66ZM475.66 372.49H472.46V362.91H475.66ZM312.59 362.91H315.79V372.49H312.59ZM571.59 372.49H568.39V362.91H571.59ZM408.51 362.91H411.71V372.49H408.51ZM446.88 62.86V66.06H437.29V62.86ZM104.75 362.91H107.95V372.49H104.75ZM200.68 362.91H203.87V372.49H200.68ZM446.88 206.5V209.7H437.29V206.5ZM635.54 372.49H632.34V362.91H635.54ZM731.46 372.49H728.26V362.91H731.46ZM523.62 372.49H520.43V362.91H523.62ZM360.55 362.91H363.75V372.49H360.55ZM619.55 372.49H616.35V362.91H619.55ZM456.48 362.91H459.67V372.49H456.48ZM446.88 350.14V353.34H437.29V350.14ZM136.73 362.91H139.92V372.49H136.73ZM683.5 372.49H680.3V362.91H683.5ZM779.42 372.49H776.23V362.91H779.42ZM446.88 493.78V496.98H437.29V493.78ZM296.6 362.91H299.8V372.49H296.6ZM555.6 372.49H552.4V362.91H555.6ZM446.88 637.42V640.62H437.29V637.42Z"/><path fill="#a4a4a4" d="M40.8 688.15H843.37V685.7H827.39V678.92H824.19V685.7H811.4V678.92H808.2V685.7H795.41V678.92H792.21V685.7H779.42V678.92H776.23V685.7H763.44V678.92H760.24V685.7H747.45V678.92H744.25V685.7H731.46V678.92H728.26V685.7H715.47V678.92H712.28V685.7H699.49V678.92H696.29V685.7H683.5V678.92H680.3V685.7H667.51V678.92H664.31V685.7H651.52V678.92H648.33V685.7H635.54V678.92H632.34V685.7H619.55V678.92H616.35V685.7H603.56V678.92H600.36V685.7H587.57V678.92H584.38V685.7H571.59V678.92H568.39V685.7H555.6V678.92H552.4V685.7H539.61V678.92H536.41V685.7H523.62V678.92H520.43V685.7H507.64V678.92H504.44V685.7H491.65V678.92H488.45V685.7H475.66V678.92H472.46V685.7H459.67V678.92H456.48V685.7H443.69V678.92H440.49V685.7H427.7V678.92H424.5V685.7H411.71V678.92H408.51V685.7H395.72V678.92H392.53V685.7H379.74V678.92H376.54V685.7H363.75V678.92H360.55V685.7H347.76V678.92H344.56V685.7H331.77V678.92H328.58V685.7H315.79V678.92H312.59V685.7H299.8V678.92H296.6V685.7H283.81V678.92H280.61V685.7H267.82V678.92H264.63V685.7H251.84V678.92H248.64V685.7H235.85V678.92H232.65V685.7H219.86V678.92H216.66V685.7H203.87V678.92H200.68V685.7H187.89V678.92H184.69V685.7H171.9V678.92H168.7V685.7H155.91V678.92H152.71V685.7H139.92V678.92H136.73V685.7H123.94V678.92H120.74V685.7H107.95V678.92H104.75V685.7H91.96V678.92H88.76V685.7H75.97V678.92H72.78V685.7H59.99V678.92H56.79V685.7H40.8ZM862.56 685.7H1009.64V688.15H862.56Z"/></g>
<g fill="#a4a4a4"><rect x="41.45" y="683" width="1.9" height="4.5"/><rect x="840.83" y="683" width="1.9" height="4.5"/></g>
<g fill="#000"><path d="M514.03 101.17V104.36H530.02V101.17H533.22V104.36H577.98V107.55H584.38V104.36H590.77V107.55H763.44V110.74H773.03V107.55H785.82V110.74H795.41V107.55H801.81V110.74H811.4V107.55H820.99V110.74H824.19V107.55H830.58V110.74H833.78V107.55H836.98V110.74H843.37V113.94H683.5V110.74H680.3V113.94H667.51V110.74H664.31V113.94H651.52V110.74H648.33V113.94H641.93V110.74H533.22V107.55H475.66V104.36H443.69V107.55H434.09V110.74H430.9V113.94H427.7V117.13H424.5V123.51H421.3V129.9H418.11V139.47H414.91V149.05H411.71V158.62H408.51V171.39H405.32V184.16H402.12V193.74H398.92V200.12H395.72V203.31H392.53V206.5H389.33V209.7H386.13V212.89H197.48V216.08H194.28V212.89H191.08V216.08H187.89V212.89H181.49V216.08H178.29V212.89H165.5V216.08H162.31V212.89H130.33V216.08H127.13V212.89H120.74V216.08H37.6V219.27H34.41V222.46H31.21V216.08H28.01V212.89H31.21V206.5H34.41V209.7H37.6V212.89H40.8V209.7H207.07V206.5H210.27V209.7H370.14V206.5H373.34V209.7H379.74V206.5H386.13V203.31H389.33V200.12H392.53V193.74H395.72V190.54H398.92V180.97H402.12V168.2H405.32V155.43H408.51V145.86H411.71V136.28H414.91V126.7H418.11V117.13H421.3V113.94H424.5V107.55H430.9V104.36H434.09V101.17ZM203.87 40.52H200.68V14.98H203.87ZM203.87 40.52H207.07V43.71H203.87ZM133.53 59.67V62.86H130.33V66.06H127.13V69.25H123.94V72.44H120.74V69.25H117.54V66.06H114.34V62.86H111.15V59.67H120.74V50.1H123.94V59.67ZM123.94 589.54H120.74V576.78H123.94ZM418.11 544.86H421.3V560.82H424.5V573.58H427.7V583.16H430.9V586.35H434.09V592.74H437.29V595.93H440.49V599.12H450.08V602.31H843.37V605.5H840.18V608.7H827.39V605.5H824.19V608.7H811.4V605.5H808.2V608.7H795.41V605.5H792.21V608.7H779.42V605.5H776.23V608.7H763.44V605.5H760.24V608.7H747.45V605.5H744.25V608.7H731.46V605.5H728.26V608.7H715.47V605.5H712.28V608.7H699.49V605.5H696.29V608.7H683.5V605.5H680.3V608.7H667.51V605.5H664.31V608.7H651.52V605.5H648.33V608.7H635.54V605.5H632.34V608.7H619.55V605.5H616.35V608.7H603.56V605.5H600.36V608.7H587.57V605.5H584.38V608.7H577.98V605.5H568.39V608.7H555.6V605.5H552.4V608.7H539.61V605.5H536.41V608.7H523.62V605.5H520.43V608.7H507.64V605.5H504.44V608.7H501.24V605.5H494.85V608.7H491.65V605.5H488.45V608.7H475.66V605.5H472.46V608.7H459.67V605.5H453.28V608.7H450.08V605.5H443.69V602.31H437.29V599.12H434.09V595.93H430.9V589.54H427.7V586.35H424.5V576.78H421.3V564.01H418.11V548.05H414.91V528.9H411.71V509.74H408.51V481.02H405.32V455.48H402.12V429.94H398.92V407.6H395.72V388.45H392.53V375.68H389.33V369.3H386.13V366.1H379.74V362.91H360.55V359.72H354.16V362.91H344.56V359.72H338.17V362.91H334.97V359.72H318.98V362.91H315.79V359.72H283.81V362.91H280.61V359.72H271.02V362.91H267.82V359.72H251.84V362.91H248.64V359.72H175.1V362.91H171.9V359.72H155.91V362.91H146.32V359.72H139.92V362.91H136.73V359.72H127.13V362.91H123.94V366.1H120.74V353.34H139.92V356.53H143.12V353.34H146.32V356.53H152.71V353.34H175.1V356.53H181.49V353.34H187.89V356.53H194.28V353.34H203.87V356.53H207.07V353.34H226.26V356.53H229.45V353.34H242.24V356.53H248.64V353.34H255.03V356.53H277.42V353.34H287.01V356.53H290.21V353.34H309.39V356.53H312.59V353.34H315.79V356.53H318.98V353.34H322.18V356.53H357.35V353.34H360.55V356.53H379.74V359.72H386.13V362.91H389.33V366.1H392.53V372.49H395.72V385.26H398.92V404.41H402.12V426.75H405.32V452.29H408.51V477.82H411.71V506.55H414.91V525.7H418.11ZM210.27 40.52H213.47V43.71H210.27ZM210.27 40.52H207.07V37.33H210.27ZM213.47 40.52V37.33H216.66V40.52ZM187.89 40.52H184.69V11.79H187.89V14.98H191.08V18.18H187.89ZM843.37 474.63V477.82H833.78V487.4H830.58V484.21H827.39V481.02H824.19V477.82H820.99V474.63H824.19V471.44H827.39V468.25H830.58V465.06H833.78V474.63ZM34.41 602.31H37.6V605.5H40.8V608.7H37.6V611.89H34.41V615.08H31.21V608.7H28.01V605.5H31.21V599.12H34.41ZM120.74 512.94H123.94V525.7H120.74ZM123.94 573.58H120.74V560.82H123.94ZM123.94 608.7H107.95V605.5H104.75V608.7H91.96V605.5H88.76V608.7H75.97V605.5H72.78V608.7H59.99V605.5H56.79V608.7H44V605.5H40.8V602.31H120.74V592.74H123.94ZM191.08 14.98V11.79H194.28V14.98ZM120.74 496.98H123.94V509.74H120.74ZM123.94 557.62H120.74V544.86H123.94ZM357.35 34.14H354.16V37.33H350.96V40.52H334.97V37.33H331.77V34.14H328.58V18.18H331.77V14.98H334.97V11.79H350.96V14.98H354.16V18.18H357.35ZM827.39 694.88V698.07H824.19V691.69H833.78V694.88ZM824.19 698.07V704.46H820.99V698.07ZM123.94 461.86H120.74V449.1H123.94ZM120.74 481.02H123.94V493.78H120.74ZM123.94 541.66H120.74V528.9H123.94ZM808.2 714.03H814.6V710.84H817.79V717.22H808.2ZM219.86 37.33H223.06V40.52H219.86ZM223.06 40.52H226.26V43.71H223.06ZM219.86 40.52V43.71H216.66V40.52ZM184.69 40.52V43.71H181.49V40.52ZM123.94 413.98H120.74V401.22H123.94ZM123.94 445.9H120.74V433.14H123.94ZM120.74 465.06H123.94V477.82H120.74ZM123.94 398.02H120.74V385.26H123.94ZM123.94 429.94H120.74V417.18H123.94ZM168.7 40.52H171.9V43.71H168.7ZM171.9 40.52V37.33H175.1V40.52ZM123.94 382.06H120.74V369.3H123.94ZM178.29 37.33H181.49V40.52H178.29ZM178.29 40.52V43.71H175.1V40.52ZM197.48 11.79H200.68V14.98H197.48ZM197.48 14.98V18.18H194.28V14.98ZM820.99 704.46V710.84H817.79V704.46Z"/><rect x="916.7" y="113.94" width="41.4" height="38.3"/><rect x="913" y="222.46" width="48.2" height="38.3"/><rect x="890.8" y="369.3" width="93.1" height="38.3"/><rect x="913" y="624.66" width="48.2" height="38.3"/></g>
<g class="t" font-family='"Liberation Sans", sans-serif'><text transform="translate(370.2 36.6) scale(0.8205 1)" font-size="34.8">Acq</text>
<text transform="translate(429.82 36.6) scale(0.8479 1)" font-size="34.8">Complete</text>
<text transform="translate(582.01 36.6) scale(0.8777 1)" font-size="34.8">M</text>
<text transform="translate(619.4 36.6) scale(0.7354 1)" font-size="34.8">Pos:</text>
<text transform="translate(680.67 36.6) scale(0.7888 1)" font-size="34.8">4.000ms</text>
<text transform="translate(908.75 36.6) scale(0.7691 1)" font-size="34.8">CH2</text>
<text transform="translate(880.08 103.96) scale(0.8095 1)" font-size="34.8">Coupling</text>
<text transform="translate(917.63 142.66) scale(0.7426 1)" font-size="35.6" class="w">DC</text>
<text transform="translate(876.45 212.49) scale(0.6802 1)" font-size="34.8">BW</text>
<text transform="translate(927.18 212.49) scale(0.8917 1)" font-size="34.8">Limit</text>
<text transform="translate(914.94 251.19) scale(0.9319 1)" font-size="35.6" class="w">Off</text>
<text transform="translate(882.62 289.1) scale(0.8165 1)" font-size="34.8">100MHz</text>
<text transform="translate(875.6 359.32) scale(0.9093 1)" font-size="34.8">Volts/Div</text>
<text transform="translate(893.01 398.02) scale(0.7712 1)" font-size="35.6" class="w">Coarse</text>
<text transform="translate(898.35 467.85) scale(0.7911 1)" font-size="34.8">Probe</text>
<text transform="translate(921 506.15) scale(0.7372 1)" font-size="34.8">1X</text>
<text transform="translate(888.8 544.46) scale(0.8562 1)" font-size="34.8">Voltage</text>
<text transform="translate(894.55 614.68) scale(0.9013 1)" font-size="34.8">Invert</text>
<text transform="translate(914.94 653.38) scale(0.9319 1)" font-size="35.6" class="w">Off</text>
<text transform="translate(11.03 716.82) scale(0.7180 1)" font-size="34.8">CH1</text>
<text transform="translate(84.65 716.82) scale(0.7853 1)" font-size="34.8">5.00V</text>
<text transform="translate(221.86 716.82) scale(0.7585 1)" font-size="34.8">CH2</text>
<text transform="translate(295.28 716.82) scale(0.7904 1)" font-size="34.8">1.00V</text>
<text transform="translate(434.72 716.82) scale(0.9112 1)" font-size="34.8">M</text>
<text transform="translate(471.66 716.82) scale(0.8001 1)" font-size="34.8">1.00ms</text>
<text transform="translate(742.56 716.82) scale(0.7600 1)" font-size="34.8">CH2</text>
<text transform="translate(844.68 716.82) scale(0.7916 1)" font-size="34.8">1.64V</text></g>
<g class="k"><text transform="translate(11.07 43.3) scale(0.9855 1)" font-size="47.5" font-family='"Liberation Serif", serif' font-weight="bold">Tek</text></g>
<g class="t" font-family='"Liberation Sans", sans-serif'><text transform="translate(10.32 225.66) scale(0.6809 1)" font-size="32.41">1</text><text transform="translate(10.32 618.27) scale(0.9083 1)" font-size="32.41">2</text></g>
</svg>
</body></html>
